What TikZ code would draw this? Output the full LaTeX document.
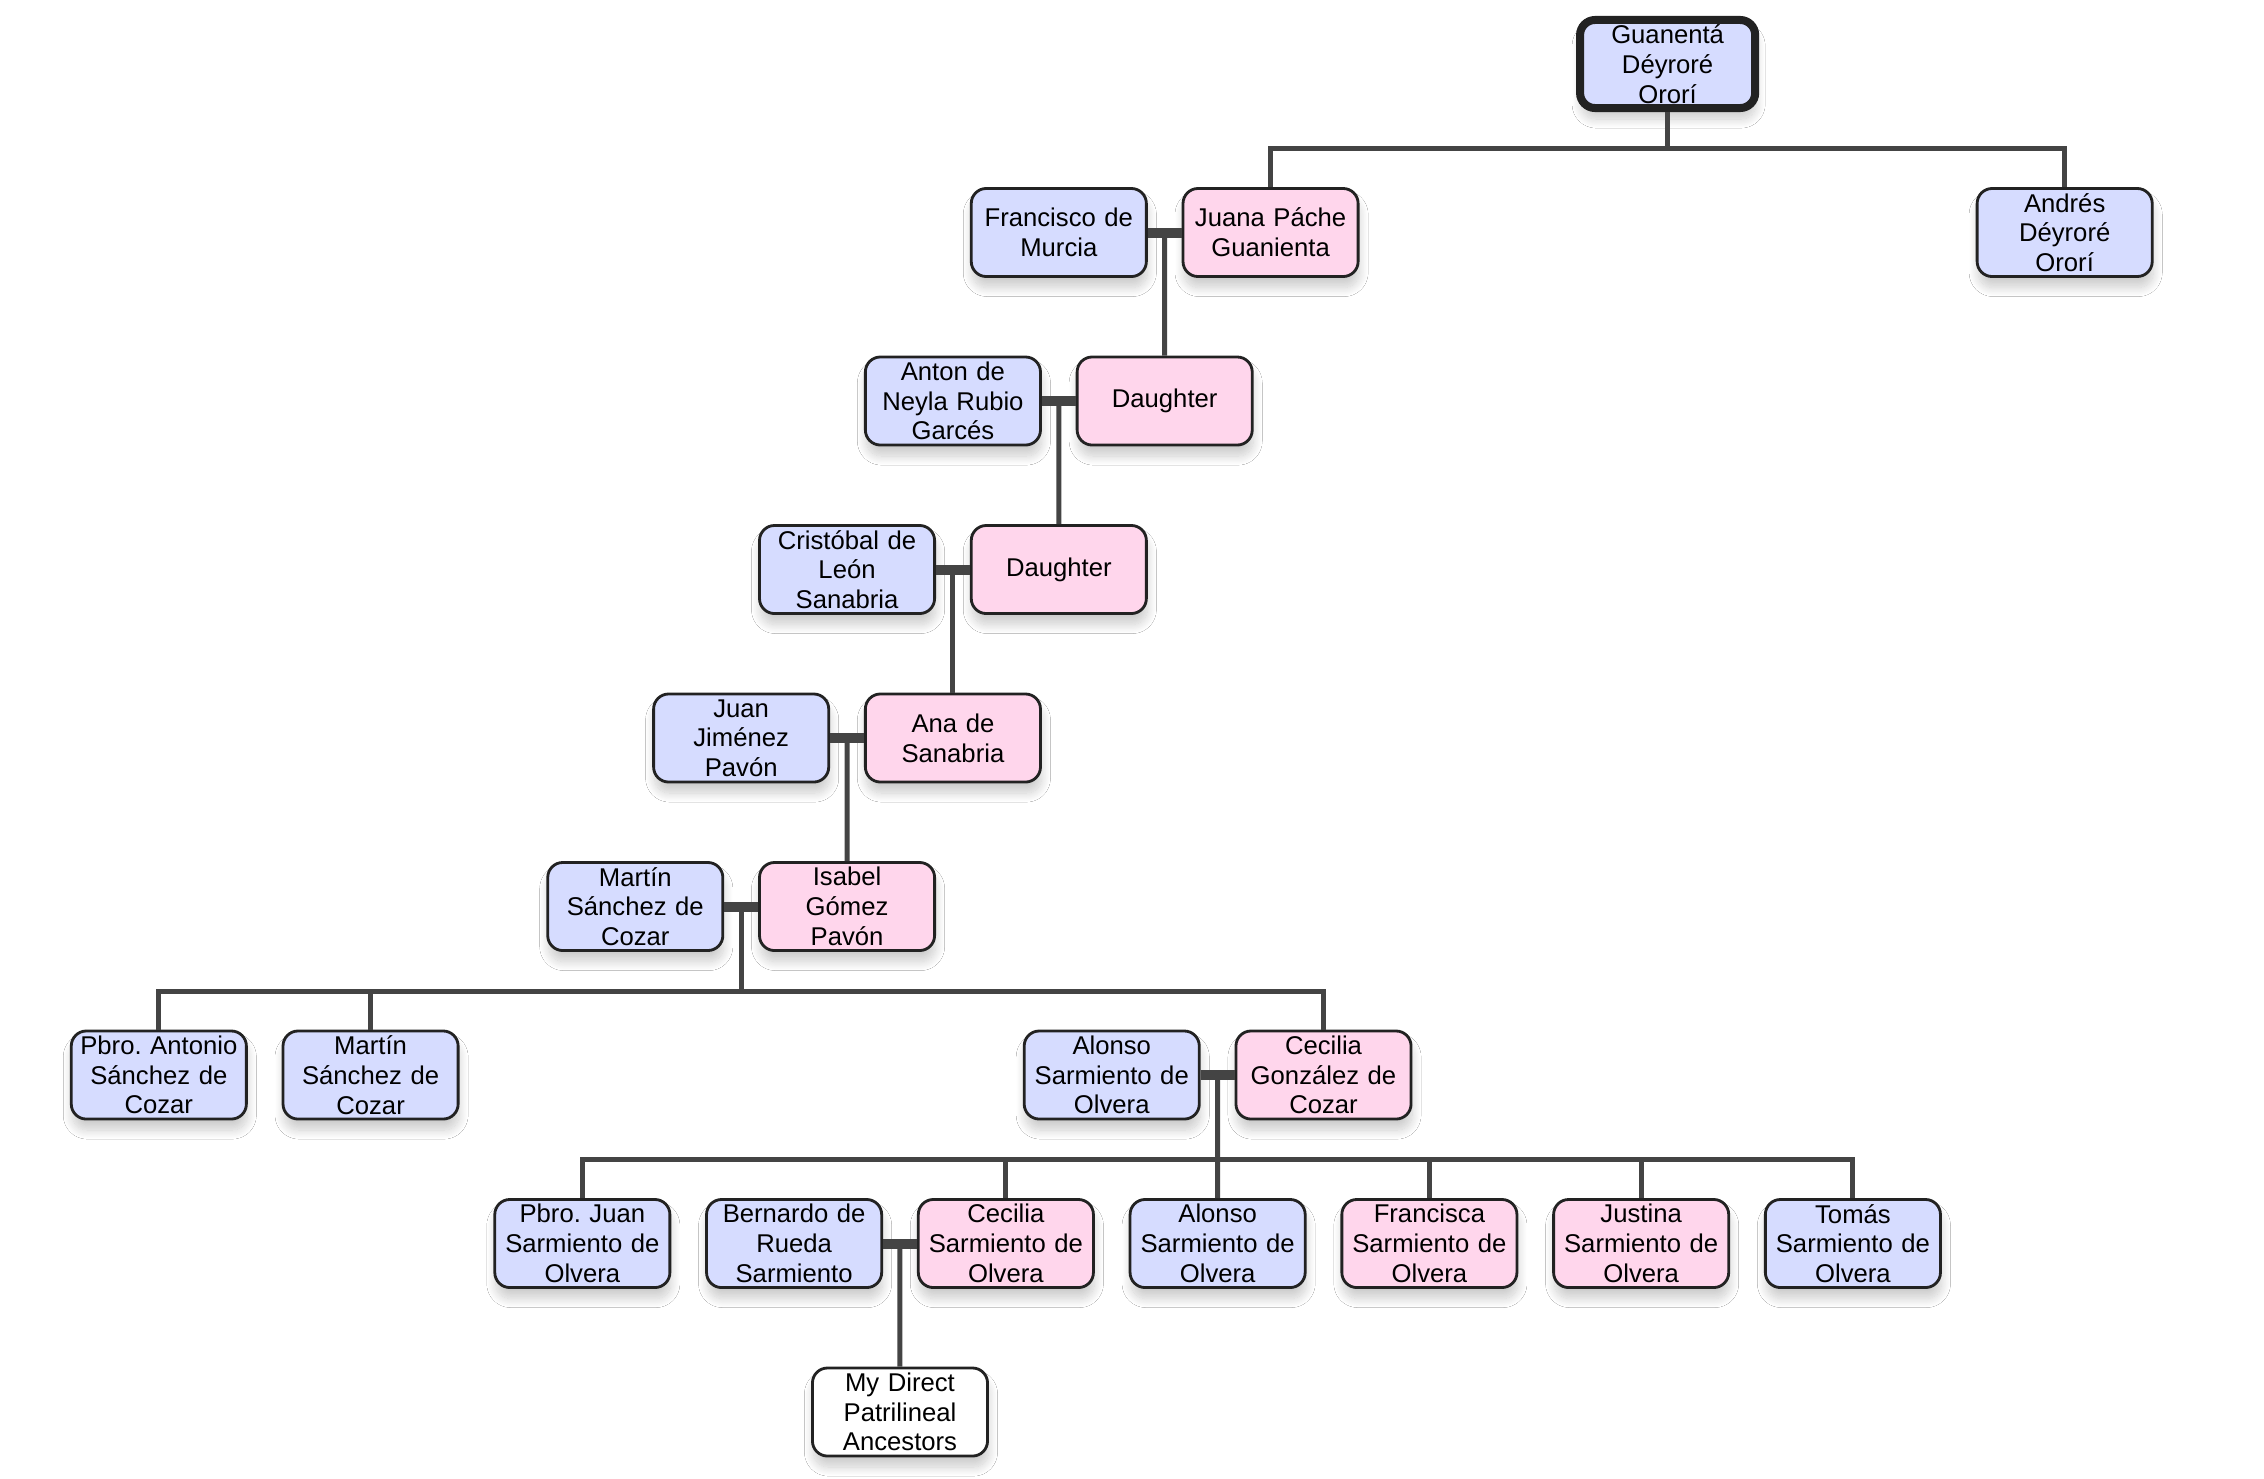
\documentclass[tikz,border=0pt]{standalone}
\usepackage{fontspec}
\setmainfont{Liberation Sans}
\frenchspacing
\usetikzlibrary{shadows.blur,calc}
\definecolor{malecol}{RGB}{214,220,255}
\definecolor{femalecol}{RGB}{255,214,236}
\definecolor{bordercol}{RGB}{34,34,34}
\definecolor{linecol}{RGB}{68,68,68}
\tikzset{
  person/.style={draw=bordercol, line width=0.8pt, rounded corners=0.15cm,
    minimum width=1.75cm, minimum height=0.88cm, text width=1.75cm,
    inner sep=0pt, align=center, font=\fontsize{7.3}{8.45}\selectfont,
    blur shadow={shadow xshift=0.01cm, shadow yshift=-0.11cm, shadow blur radius=0.09cm,
      shadow blur steps=16, shadow opacity=20}},
  male/.style={person, fill=malecol},
  female/.style={person, fill=femalecol},
  plain/.style={person, fill=white},
  conn/.style={draw=linecol, line width=0.05cm},
  couplebar/.style={draw=linecol, line width=0.1cm},
}
\begin{document}
\begin{tikzpicture}[x=0.01cm,y=-0.01cm]
\def\c{105.88}
\useasboundingbox (0,0) rectangle (2264,1478);
\fill[white] (0,0) rectangle (2264,1478);
% row 0
\node[male, line width=0.08cm] (root) at (15.75*\c,64) {Guanentá\\Déyroré\\Ororí};
% row 1
\node[male] (fran) at (10*\c,232.5) {Francisco de\\Murcia};
\node[female] (juana) at (12*\c,232.5) {Juana Páche\\Guanienta};
\node[male] (andres) at (19.5*\c,232.5) {Andrés\\Déyroré\\Ororí};
% row 2
\node[male] (anton) at (9*\c,401) {Anton de\\Neyla Rubio\\Garcés};
\node[female] (dau1) at (11*\c,401) {Daughter};
% row 3
\node[male] (cris) at (8*\c,569.5) {Cristóbal de\\León\\Sanabria};
\node[female] (dau2) at (10*\c,569.5) {Daughter};
% row 4
\node[male] (juan) at (7*\c,738) {Juan\\Jiménez\\Pavón};
\node[female] (ana) at (9*\c,738) {Ana de\\Sanabria};
% row 5
\node[male] (martin) at (6*\c,906.5) {Martín\\Sánchez de\\Cozar};
\node[female] (isabel) at (8*\c,906.5) {Isabel\\Gómez\\Pavón};
% row 6
\node[male] (pant) at (1.5*\c,1075) {Pbro. Antonio\\Sánchez de\\Cozar};
\node[male] (mart2) at (3.5*\c,1075) {Martín\\Sánchez de\\Cozar};
\node[male] (alonso) at (10.5*\c,1075) {Alonso\\Sarmiento de\\Olvera};
\node[female] (cecilia) at (12.5*\c,1075) {Cecilia\\González de\\Cozar};
% row 7
\node[male] (pjuan) at (5.5*\c,1243.5) {Pbro. Juan\\Sarmiento de\\Olvera};
\node[male] (bern) at (7.5*\c,1243.5) {Bernardo de\\Rueda\\Sarmiento};
\node[female] (cec2) at (9.5*\c,1243.5) {Cecilia\\Sarmiento de\\Olvera};
\node[male] (alon2) at (11.5*\c,1243.5) {Alonso\\Sarmiento de\\Olvera};
\node[female] (fran2) at (13.5*\c,1243.5) {Francisca\\Sarmiento de\\Olvera};
\node[female] (just) at (15.5*\c,1243.5) {Justina\\Sarmiento de\\Olvera};
\node[male] (tomas) at (17.5*\c,1243.5) {Tomás\\Sarmiento de\\Olvera};
% row 8
\node[plain] (mydirect) at (8.5*\c,1412) {My Direct\\Patrilineal\\Ancestors};

% sibling bars
\coordinate (b0) at (15.75*\c,148);
\coordinate (b5) at (7*\c,991);
\coordinate (b6) at (11.5*\c,1159);

% root children
\draw[conn] (root.south) -- (b0);
\draw[conn] (juana.north) -- (juana.north |- b0) -- (andres.north |- b0) -- (andres.north);

% couples
\draw[couplebar] (fran.east) -- (juana.west);
\coordinate (m1) at ($(fran.east)!0.5!(juana.west)$);
\draw[conn] (m1) -- (dau1.north);

\draw[couplebar] (anton.east) -- (dau1.west);
\coordinate (m2) at ($(anton.east)!0.5!(dau1.west)$);
\draw[conn] (m2) -- (dau2.north);

\draw[couplebar] (cris.east) -- (dau2.west);
\coordinate (m3) at ($(cris.east)!0.5!(dau2.west)$);
\draw[conn] (m3) -- (ana.north);

\draw[couplebar] (juan.east) -- (ana.west);
\coordinate (m4) at ($(juan.east)!0.5!(ana.west)$);
\draw[conn] (m4) -- (isabel.north);

\draw[couplebar] (martin.east) -- (isabel.west);
\coordinate (m5) at ($(martin.east)!0.5!(isabel.west)$);
\draw[conn] (m5) -- (b5);
\draw[conn] (pant.north) -- (pant.north |- b5) -- (cecilia.north |- b5) -- (cecilia.north);
\draw[conn] (mart2.north) -- (mart2.north |- b5);

\draw[couplebar] (alonso.east) -- (cecilia.west);
\coordinate (m6) at ($(alonso.east)!0.5!(cecilia.west)$);
\draw[conn] (m6) -- (alon2.north);
\draw[conn] (pjuan.north) -- (pjuan.north |- b6) -- (tomas.north |- b6) -- (tomas.north);
\draw[conn] (cec2.north) -- (cec2.north |- b6);
\draw[conn] (fran2.north) -- (fran2.north |- b6);
\draw[conn] (just.north) -- (just.north |- b6);

\draw[couplebar] (bern.east) -- (cec2.west);
\coordinate (m7) at ($(bern.east)!0.5!(cec2.west)$);
\draw[conn] (m7) -- (mydirect.north);
\end{tikzpicture}
\end{document}
